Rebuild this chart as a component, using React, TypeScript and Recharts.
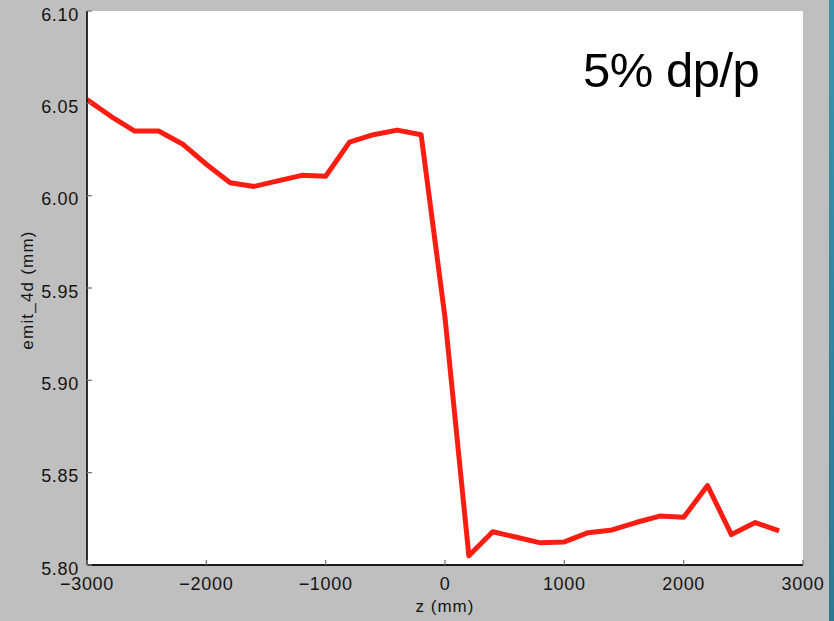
import { LineChart, Line, XAxis, YAxis, CartesianGrid } from "recharts";

// z positions along the channel (mm) and the 4D emittance at each one
const zPositions = [
  -3000, -2800, -2600, -2400, -2200, -2000, -1800, -1600, -1400, -1200,
  -1000, -800, -600, -400, -200, 0, 200, 400, 600, 800,
  1000, 1200, 1400, 1600, 1800, 2000, 2200, 2400, 2600, 2800,
];
const emit4d = [
  6.052, 6.043, 6.035, 6.035, 6.028, 6.017, 6.007, 6.005, 6.008, 6.011,
  6.0105, 6.029, 6.033, 6.0355, 6.033, 5.934, 5.805, 5.818, 5.815, 5.812,
  5.8125, 5.8175, 5.819, 5.823, 5.8265, 5.8258, 5.843, 5.8165, 5.823, 5.8185,
];
const xTicks = [-3000, -2000, -1000, 0, 1000, 2000, 3000];
const yTicks = [5.8, 5.85, 5.9, 5.95, 6.0, 6.05, 6.1];

const data = zPositions.map((z, i) => ({ z, emit: emit4d[i] }));

const FONT = '"Liberation Sans", Arial, Helvetica, sans-serif';
const TICK_COLOR = "#7a7a7a";
const TEXT_COLOR = "#141414";

const fmtX = (v: number) => (v < 0 ? "\u2212" + Math.abs(v) : String(v));

// matplotlib-style ticks: short marks pointing into the plot
const BottomTick = ({ x, y, payload }: any) => (
  <g>
    <line x1={x} y1={y} x2={x} y2={y - 5} stroke={TICK_COLOR} strokeWidth={1.3} />
    <text x={x} y={y + 25} textAnchor="middle" fontSize={18} letterSpacing={0.7} fill={TEXT_COLOR} fontFamily={FONT}>
      {fmtX(payload.value)}
    </text>
  </g>
);

const TopTick = ({ x, y }: any) => (
  <line x1={x} y1={y} x2={x} y2={y + 5} stroke={TICK_COLOR} strokeWidth={1.3} />
);

const LeftTick = ({ x, y, payload }: any) => (
  <g>
    <line x1={x} y1={y} x2={x + 5} y2={y} stroke={TICK_COLOR} strokeWidth={1.3} />
    <text x={x - 8} y={y + 9.5} textAnchor="end" fontSize={18} letterSpacing={0.7} fill={TEXT_COLOR} fontFamily={FONT}>
      {payload.value.toFixed(2)}
    </text>
  </g>
);

const RightTick = ({ x, y }: any) => (
  <line x1={x} y1={y} x2={x - 5} y2={y} stroke={TICK_COLOR} strokeWidth={1.3} />
);

const YLabel = ({ viewBox }: any) => {
  const cx = 33;
  const cy = viewBox.y + viewBox.height / 2 + 2;
  return (
    <text
      x={cx}
      y={cy}
      transform={`rotate(-90 ${cx} ${cy})`}
      textAnchor="middle"
      fontSize={17}
      letterSpacing={1.2}
      fill={TEXT_COLOR}
      fontFamily={FONT}
    >
      emit_4d (mm)
    </text>
  );
};

const frame = { stroke: "#1a1a1a", strokeWidth: 1.8 };

export default function App() {
  return (
    <div style={{ position: "absolute", left: 0, top: 0, width: 834, height: 621, background: "#bfbfbf", overflow: "hidden" }}>
      <LineChart width={834} height={621} data={data} margin={{ top: 11, right: 31, left: 0, bottom: 0 }}>
        <CartesianGrid horizontal={false} vertical={false} fill="#ffffff" />
        <XAxis
          dataKey="z"
          type="number"
          domain={[-3000, 3000]}
          ticks={xTicks}
          interval={0}
          height={56}
          tickSize={0}
          tickMargin={0}
          axisLine={frame}
          tickLine={false}
          tick={<BottomTick />}
          allowDataOverflow
          label={{ value: "z (mm)", position: "insideBottom", offset: 9, fontSize: 17, fill: TEXT_COLOR, fontFamily: FONT, letterSpacing: 1 }}
        />
        <XAxis
          xAxisId="top"
          orientation="top"
          dataKey="z"
          type="number"
          domain={[-3000, 3000]}
          ticks={xTicks}
          interval={0}
          height={0}
          tickSize={0}
          tickMargin={0}
          axisLine={frame}
          tickLine={false}
          tick={<TopTick />}
        />
        <YAxis
          type="number"
          domain={[5.8, 6.1]}
          ticks={yTicks}
          interval={0}
          width={87}
          tickSize={0}
          tickMargin={0}
          axisLine={frame}
          tickLine={false}
          tick={<LeftTick />}
          allowDataOverflow
          label={{ content: <YLabel /> }}
        />
        <YAxis
          yAxisId="right"
          orientation="right"
          type="number"
          domain={[5.8, 6.1]}
          ticks={yTicks}
          interval={0}
          width={0}
          tickSize={0}
          tickMargin={0}
          axisLine={frame}
          tickLine={false}
          tick={<RightTick />}
        />
        <Line
          type="linear"
          dataKey="emit"
          stroke="#fc1d12"
          strokeWidth={5}
          strokeLinejoin="round"
          dot={false}
          activeDot={false}
          isAnimationActive={false}
        />
      </LineChart>
      <svg width={834} height={621} style={{ position: "absolute", left: 0, top: 0, pointerEvents: "none" }}>
        <text x={583} y={87} fontSize={49} letterSpacing={-0.5} fill="#000" fontFamily={FONT}>
          5% dp/p
        </text>
      </svg>
      <div style={{ position: "absolute", left: 829, top: 0, width: 5, height: 621, background: "linear-gradient(#3a93ad, #2c7893)" }} />
    </div>
  );
}
